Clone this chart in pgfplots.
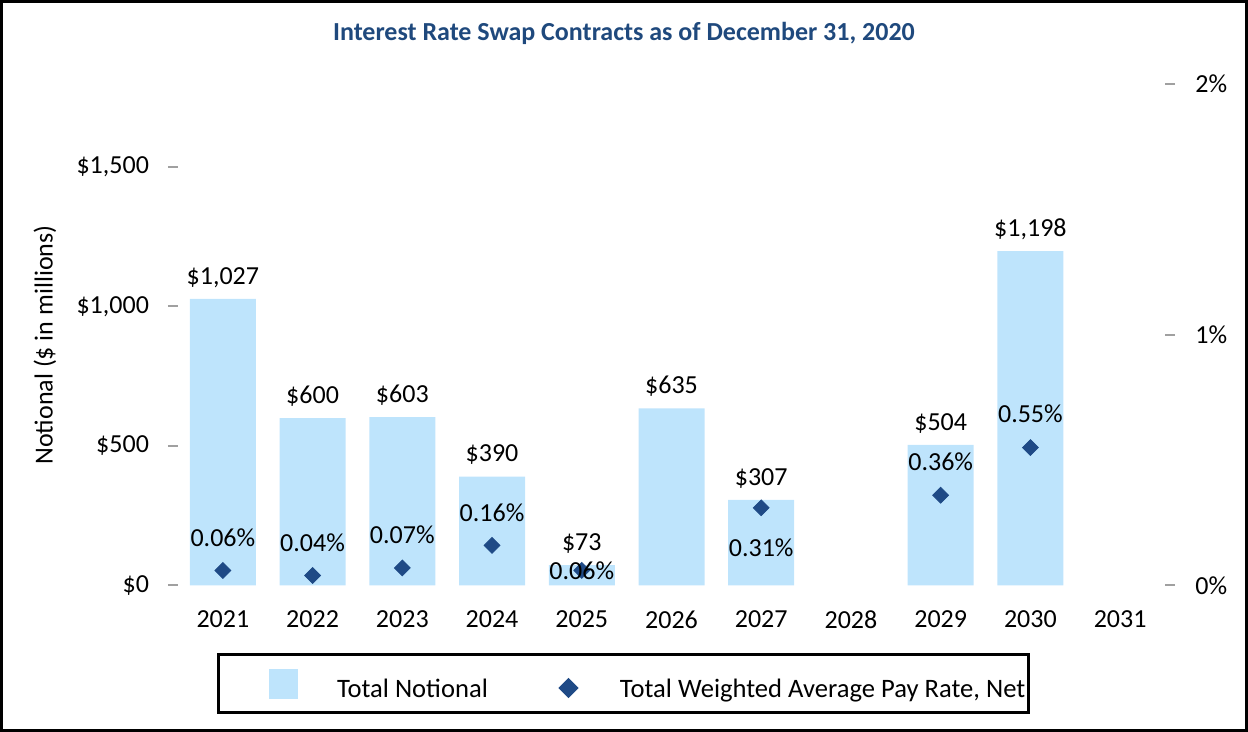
\documentclass[border=0pt]{standalone}
\usepackage{pgfplots}
\pgfplotsset{compat=1.18}
\usepackage{pgfplotstable}
\usepackage{fontspec}
\setmainfont{Carlito}

\definecolor{barblue}{RGB}{190,228,252}
\definecolor{rateblue}{RGB}{31,74,134}
\definecolor{titleblue}{RGB}{31,73,125}
\definecolor{tickgray}{RGB}{160,160,160}

% notional by maturity year ($ millions); x = 0 is 2021
\pgfplotstableread{
x notional lab
0 1027 1,027
1 600 600
2 603 603
3 390 390
4 73 73
5 635 635
6 307 307
8 504 504
9 1198 1,198
}\notionaltable

% weighted average pay rate (%), dy = label offset in pt
\pgfplotstableread{
x rate lab dy
0 0.06 0.06 16.5
1 0.04 0.04 16.5
2 0.07 0.07 16.5
3 0.16 0.16 16.5
4 0.06 0.06 0
6 0.31 0.31 -20
8 0.36 0.36 16.5
9 0.55 0.55 17
}\ratetable

\newcommand\lbl{\fontsize{13pt}{15.6pt}\selectfont}
\newcommand\leg{\fontsize{13.3pt}{16pt}\selectfont}

\pgfplotsset{
  swapbase/.style={
    scale only axis, width=493.5pt, height=250.75pt,
    xmin=-0.5, xmax=10.5, ymin=0,
    axis line style={draw=none},
    tick align=outside, major tick length=5pt,
    tick style={tickgray, line width=1pt},
    tick label style={font=\lbl, text=black},
    clip=false,
  },
  rateimage/.style={legend image code/.code={
    \path (0pt,-8.75pt) (55pt,18.75pt);
    \draw[##1] plot coordinates {(30pt,3pt)};}},
}

\begin{document}
\begin{tikzpicture}
\useasboundingbox (-89pt,-73.25pt) rectangle (535pt,292.75pt);
\draw[line width=1.5pt] (-88.25pt,-72.5pt) rectangle (534.25pt,292pt);

\begin{axis}[swapbase,
  ymax=1797, ytick={0,500,1000,1500},
  yticklabels={{\$0},{\$500},{\$1,000},{\$1,500}},
  ytick pos=left, yticklabel style={xshift=-6pt},
  xtick={0,1,2,3,4,5,6,7,8,9,10},
  xticklabels={2021,2022,2023,2024,2025,2026,2027,2028,2029,2030,2031},
  xtick style={draw=none}, xticklabel style={yshift=-4pt},
  ylabel={Notional (\$ in millions)},
  every axis y label/.style={at={(axis description cs:-0.13475,0.4796)}, rotate=90, anchor=center, font=\lbl},
]
\addplot[ybar, bar width=33pt, fill=barblue, draw=none,
  nodes near coords={\$\pgfplotspointmeta}, point meta=explicit symbolic,
  every node near coord/.append style={font=\lbl, text=black, anchor=base, yshift=7.4pt, inner sep=0pt}]
  table[x=x, y=notional, meta=lab] {\notionaltable};
\end{axis}

\begin{axis}[swapbase,
  ymax=2, ytick={0,1,2}, yticklabels={0\%,1\%,2\%},
  ytick pos=right, yticklabel style={xshift=6.7pt},
  hide x axis,
  legend columns=2,
  legend style={at={(axis description cs:0.45137,-0.1964)}, anchor=center,
    draw=black, line width=1.5pt, inner sep=0pt, column sep=0pt, row sep=0pt,
    /tikz/every even column/.append style={column sep=0pt},
    /tikz/every odd column/.append style={column sep=0pt},
    nodes={inner sep=0pt, font=\leg, text=black}},
]
\addlegendimage{legend image code/.code={
  \path (0pt,-8.75pt) (57.75pt,18.75pt);
  \fill[barblue] (25pt,-2pt) rectangle (38pt,11.5pt);}}
\addlegendentry{\raisebox{4.5pt}{\makebox[85pt][l]{Total Notional}}}
\addplot[only marks, mark=square*, mark size=2.8pt, color=rateblue,
  mark options={rotate=45, fill=rateblue, draw=rateblue},
  nodes near coords={\pgfplotspointmeta\%}, point meta=explicit symbolic,
  visualization depends on={\thisrow{dy} \as \ldy},
  every node near coord/.append style={font=\lbl, text=black, anchor=center, yshift=\ldy pt},
  rateimage]
  table[x=x, y=rate, meta=lab] {\ratetable};
\addlegendentry{\raisebox{4.5pt}{\makebox[204.25pt][l]{Total Weighted Average Pay Rate, Net}}}
\end{axis}

\node[font=\bfseries\fontsize{13pt}{15.6pt}\selectfont, text=titleblue] at (223pt,276.25pt)
  {Interest Rate Swap Contracts as of December 31, 2020};
\end{tikzpicture}
\end{document}
